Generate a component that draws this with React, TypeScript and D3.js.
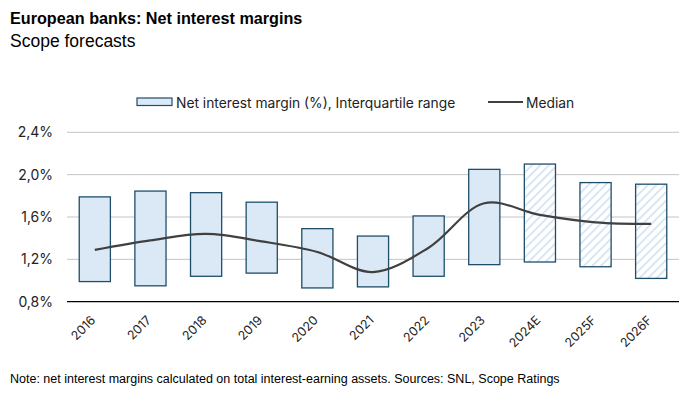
import React from "react";
import * as d3 from "d3";

const categories = ["2016","2017","2018","2019","2020","2021","2022","2023","2024E","2025F","2026F"];
const q1Values = [0.99,0.95,1.04,1.07,0.93,0.94,1.04,1.15,1.175,1.13,1.02];
const q3Values = [1.79,1.845,1.83,1.74,1.49,1.42,1.61,2.05,2.10,1.925,1.91];
const medianValues = [1.29,1.38,1.44,1.37,1.27,1.08,1.31,1.73,1.62,1.55,1.535];
const forecastFlags = [false,false,false,false,false,false,false,false,true,true,true];
const yTicks = [0.8,1.2,1.6,2.0,2.4];

const W = 700, H = 397;
const left = 67, right = 679, top = 132.3, bottom = 301.7;

export default function App() {
  const x = d3.scaleBand<string>().domain(categories).range([left, right]).paddingInner(0.44).paddingOuter(0.22);
  const y = d3.scaleLinear().domain([0.8, 2.4]).range([bottom, top]);
  const line = d3.line<number>()
    .x((_, i) => (x(categories[i]) as number) + x.bandwidth() / 2)
    .y(d => y(d))
    .curve(d3.curveCatmullRom.alpha(0.5));
  const fmt = (v: number) => v.toFixed(1).replace(".", ",") + "%";
  const tickFont = "Inter, 'Noto Sans', sans-serif";
  return (
    <svg width={W} height={H} style={{ position: "absolute", left: 0, top: 0, background: "#fff" }}>
      <defs>
        <pattern id="hatch" patternUnits="userSpaceOnUse" width="6" height="6" patternTransform="rotate(45)">
          <rect width="6" height="6" fill="#ffffff" />
          <line x1="0" y1="0" x2="0" y2="6" stroke="#d4e3f2" strokeWidth="3.5" />
        </pattern>
      </defs>
      <text x={10} y={24} fontFamily="'Liberation Sans', Arial, sans-serif" fontWeight="bold" fontSize={16.2} fill="#000">European banks: Net interest margins</text>
      <text x={10} y={47} fontFamily="'Liberation Sans', Arial, sans-serif" fontSize={17.5} fill="#000">Scope forecasts</text>

      {/* legend */}
      <rect x={137} y={98} width={35} height={7.5} fill="#dbe8f5" stroke="#1f4e6b" strokeWidth={1.2} />
      <text x={176} y={107.5} fontFamily={tickFont} fontSize={13.8} fill="#222">Net interest margin (%), Interquartile range</text>
      <line x1={488} x2={523} y1={102} y2={102} stroke="#404040" strokeWidth={2} />
      <text x={526} y={107.5} fontFamily={tickFont} fontSize={13.8} fill="#222">Median</text>

      {/* grid */}
      {yTicks.map(t => (
        <g key={t}>
          {t !== 0.8 && <line x1={left} x2={right} y1={y(t)} y2={y(t)} stroke="#c4c4c4" strokeWidth={1} />}
          <text x={53} y={y(t) + 5} textAnchor="end" fontFamily={tickFont} fontSize={14} fill="#222">{fmt(t)}</text>
        </g>
      ))}

      {/* bars */}
      {categories.map((c, i) => (
        <rect key={c} x={x(c)} y={y(q3Values[i])} width={x.bandwidth()} height={y(q1Values[i]) - y(q3Values[i])}
          fill={forecastFlags[i] ? "url(#hatch)" : "#dbe8f5"} stroke="#1f4e6b" strokeWidth={1.3} />
      ))}

      <line x1={left} x2={right} y1={y(0.8)} y2={y(0.8)} stroke="#000" strokeWidth={1.3} />

      <path d={line(medianValues) || ""} fill="none" stroke="#404040" strokeWidth={2.2} />

      {/* x labels */}
      {categories.map(c => {
        const cx = (x(c) as number) + x.bandwidth() / 2;
        return (
          <text key={c} transform={`translate(${cx + 1.5},${321}) rotate(-45)`} textAnchor="end"
            fontFamily={tickFont} fontSize={12.5} fill="#222">{c}</text>
        );
      })}

      <text x={10} y={383} fontFamily="'Liberation Sans', Arial, sans-serif" fontSize={12.5} fill="#000">Note: net interest margins calculated on total interest-earning assets. Sources: SNL, Scope Ratings</text>
    </svg>
  );
}
